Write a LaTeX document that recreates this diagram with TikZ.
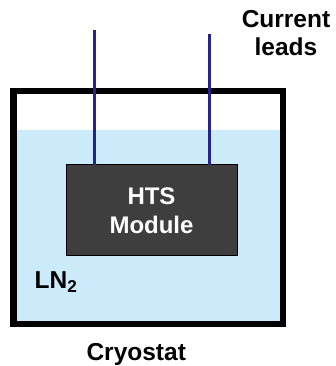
\documentclass[tikz,border=0pt]{standalone}
\usepackage{fontspec}
\setmainfont{Liberation Sans}
\usepackage{tikz}
\usetikzlibrary{positioning}
\definecolor{ln2blue}{RGB}{204,235,250}
\definecolor{leadblue}{RGB}{36,36,140}
\definecolor{moduledark}{RGB}{62,62,62}
\tikzset{
  cryo-wall/.style={draw=black, line width=6.5pt, inner sep=0pt, outer sep=0pt},
  cryo-liquid/.style={fill=ln2blue},
  hts-module/.style={draw=black, fill=moduledark, line width=1pt, inner sep=0pt, outer sep=0pt,
    align=center, text=white, font=\fontsize{24}{29}\selectfont\bfseries},
  cur-lead/.style={draw=leadblue, line width=3pt},
  cryo-label/.style={align=center, font=\fontsize{24.5}{28}\selectfont\bfseries}
}

\begin{document}
\begin{tikzpicture}[x=1pt, y=1pt]
  \useasboundingbox (0,0) rectangle (336,366);

  % Cryostat vessel
  \node[cryo-wall, minimum width=269.5pt, minimum height=233pt] (cryostat) at (148.25,158.5) {};

  % Liquid nitrogen
  \fill[cryo-liquid] (cryostat.south west) rectangle (cryostat.east |- 0,236);
  \node[cryo-wall, minimum width=269.5pt, minimum height=233pt] at (cryostat.center) {};

  % HTS module
  \node[hts-module, minimum width=171pt, minimum height=91pt] (module) at (151.5,155.5) {HTS\\Module};

  % Current leads
  \coordinate (leadA) at (94,336);
  \coordinate (leadB) at (209,332);
  \draw[cur-lead] (leadA) -- (leadA |- module.north);
  \draw[cur-lead] (leadB) -- (leadB |- module.north);

  % Labels
  \node[cryo-label] (ln2) at (56,84) {LN\textsubscript{2}};
  \node[cryo-label, below=16pt of cryostat, xshift=-12pt] (cryolabel) {Cryostat};
  \node[cryo-label] (leadlabel) at (286,333) {Current\\leads};
\end{tikzpicture}
\end{document}
